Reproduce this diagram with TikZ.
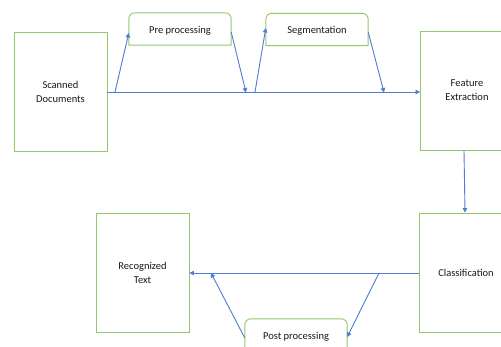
\documentclass[tikz,border=0pt]{standalone}
\usepackage{fontspec}
\setmainfont{Carlito}
\usetikzlibrary{arrows.meta}
\definecolor{boxgreen}{RGB}{146,200,108}
\definecolor{lineblue}{RGB}{78,124,214}
\definecolor{txt}{RGB}{25,25,25}
\tikzset{
  bigbox/.style={draw=boxgreen, line width=0.95pt, minimum width=93pt, minimum height=119pt,
    align=center, font=\fontsize{10.5}{14}\selectfont, text=txt, inner sep=0pt},
  tabbox/.style={minimum width=102pt, minimum height=32pt, inner sep=0pt},
  tablabel/.style={font=\fontsize{10.5}{12}\selectfont, text=txt},
  flow/.style={draw=lineblue, line width=0.9pt},
  flowarrow/.style={flow, -{Triangle[width=4.5pt,length=4.5pt]}},
}
\newcommand{\tabshape}[1]{%
  \draw[boxgreen, line width=0.95pt] (#1.south west) -- ([yshift=-6pt]#1.north west)
    arc (180:90:6pt) -- ([xshift=-6pt]#1.north east) arc (90:0:6pt) -- (#1.south east) -- cycle;}
\begin{document}
\begin{tikzpicture}[x=1pt, y=-1pt]
\useasboundingbox (0,0) rectangle (501,347);
\clip (0,0) rectangle (501,347);
\fill[white] (0,0) rectangle (501,347);

\node[bigbox] (scan) at (60.5,91.5) {Scanned\\Documents};
\node[bigbox] (feat) at (467,90.5) {Feature\\Extraction};
\node[bigbox] (class) at (466,272.5) {Classification};
\node[bigbox] (recog) at (142.5,272.5) {Recognized\\Text};

\node[tabbox] (pre) at (180,29) {};
\tabshape{pre}
\node[tablabel] at ([yshift=-2pt]pre.center) {Pre processing};
\node[tabbox] (seg) at (317,29.5) {};
\tabshape{seg}
\node[tablabel] at ([yshift=-1.5pt]seg.center) {Segmentation};
\node[tabbox] (post) at (296,335) {};
\tabshape{post}
\node[tablabel] at ([yshift=-2pt]post.center) {Post processing};

% top flow
\coordinate (m1) at (115,92);
\coordinate (m2) at (246,92);
\coordinate (m3) at (255,92);
\coordinate (m4) at (384,92);
\draw[flowarrow] (scan.east |- m1) -- (feat.west |- m1);
\draw[flowarrow] (m1) -- ([yshift=-4pt]pre.west);
\draw[flowarrow] ([yshift=-3pt]pre.east) -- ([yshift=-0.5pt]m2);
\draw[flowarrow] (m3) -- ([yshift=1.5pt]seg.west);
\draw[flowarrow] ([yshift=-2.5pt]seg.east) -- ([yshift=-0.5pt]m4);

% down
\draw[flowarrow] ([xshift=-3pt]feat.south) -- ([xshift=-1pt]class.north);

% bottom flow
\coordinate (b1) at (379,273);
\coordinate (b2) at (211,273.5);
\draw[flowarrow] (class.west |- b1) -- (recog.east |- b1);
\draw[flowarrow] (b1) -- ([yshift=-2pt]post.east);
\draw[flowarrow] ([yshift=-3pt]post.west) -- ([yshift=0.5pt]b2);
\end{tikzpicture}
\end{document}
